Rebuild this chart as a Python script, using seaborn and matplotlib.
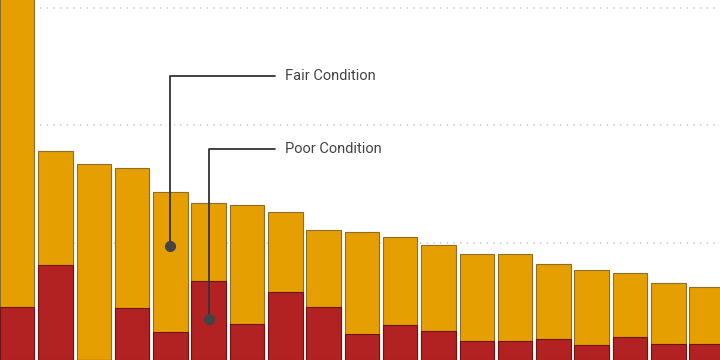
import matplotlib
matplotlib.use("Agg")
import matplotlib.pyplot as plt
import seaborn as sns
import pandas as pd

# values (gridlines at 10, 20, 30)
categories = ["A", "B", "C", "D", "E", "F", "G", "H", "I", "J",
              "K", "L", "M", "N", "O", "P", "Q", "R", "S"]
poor = [4.5, 8.1, 0.0, 4.4, 2.4, 6.7, 3.1, 5.8, 4.5, 2.2,
        3.0, 2.5, 1.6, 1.6, 1.8, 1.3, 2.0, 1.4, 1.4]
fair = [33.5, 9.7, 16.7, 12.0, 11.9, 6.7, 10.1, 6.8, 6.6, 8.7,
        7.5, 7.3, 7.4, 7.4, 6.4, 6.4, 5.4, 5.2, 4.8]

df = pd.DataFrame({"bridge": categories, "poor": poor, "fair": fair})
df["total"] = df["poor"] + df["fair"]

orange = "#E69F00"
red = "#B22222"

sns.set_style("white")
plt.rcParams['font.family'] = ['Roboto', 'DejaVu Sans']

fig = plt.figure(figsize=(7.2, 3.6), dpi=100)
ax = fig.add_axes([0, 0, 1, 1])

for v in [10, 20, 30]:
    ax.axhline(v, color="#cccccc", linewidth=1.2, linestyle=(0, (0.9, 3.1)), zorder=0)

sns.barplot(data=df, x="bridge", y="total", color=orange, width=0.9,
            saturation=1, edgecolor="#8c6d2c", linewidth=0.8, ax=ax, zorder=2)
sns.barplot(data=df, x="bridge", y="poor", color=red, width=0.9,
            saturation=1, edgecolor="#6b1414", linewidth=0.8, ax=ax, zorder=3)

ax.set_xlim(-0.45, 18.35)
ax.set_ylim(0, 30.7)
ax.set_axis_off()

# callouts
line_col = "#333333"
# white gap in gridline behind the callout line
ax.plot([4, 4], [19.5, 20.5], color="white", linewidth=5, zorder=1)
ax.plot([4, 4, 6.73], [9.7, 24.2, 24.2], color=line_col, linewidth=1.3, zorder=4)
ax.plot([4], [9.7], "o", color="#444444", markersize=7, zorder=5)
ax.plot([5, 5, 6.73], [3.5, 18.0, 18.0], color=line_col, linewidth=1.3, zorder=4)
ax.plot([5], [3.5], "o", color="#444444", markersize=7, zorder=5)
ax.text(7.0, 24.2, "Fair Condition", fontsize=10.5, color="#444444", va="center", ha="left")
ax.text(7.0, 18.0, "Poor Condition", fontsize=10.5, color="#444444", va="center", ha="left")

fig.savefig("out.png", dpi=100)
